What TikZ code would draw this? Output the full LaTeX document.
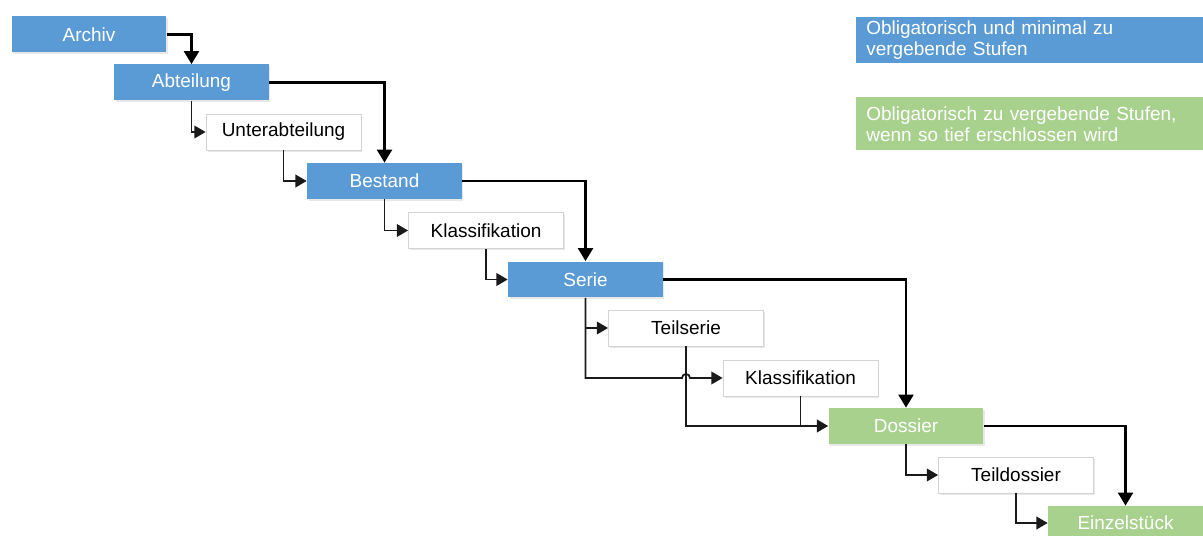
\documentclass[tikz,border=0pt]{standalone}
\usepackage{fontspec}
\setmainfont{Liberation Sans}
\usetikzlibrary{arrows.meta,shadows}
\definecolor{levelblue}{HTML}{5B9BD5}
\definecolor{levelgreen}{HTML}{A9D18E}
\definecolor{boxgray}{HTML}{D4D4D4}
\definecolor{linkgray}{HTML}{1A1A1A}
\begin{document}
\begin{tikzpicture}[x=0.02cm,y=-0.02cm,
  every node/.style={font=\fontsize{10.8}{11.9}\selectfont, inner sep=0pt,
    minimum width=3.1cm, minimum height=0.72cm},
  levelbox/.style={rectangle, drop shadow={opacity=0.18, shadow xshift=0.03cm, shadow yshift=-0.04cm}},
  mandatory/.style={levelbox, fill=levelblue, text=white},
  conditional/.style={levelbox, fill=levelgreen, text=white},
  optional/.style={levelbox, fill=white, draw=boxgray, line width=0.5pt, text=black},
  legendbox/.style={anchor=north west, minimum width=6.94cm, text width=6.54cm,
    inner xsep=0.2cm, align=left, text=white},
  mainlink/.style={line width=1.6pt, -{Triangle[width=8.4pt,length=7.4pt]}},
  sublink/.style={draw=linkgray, line width=1pt, -{Triangle[width=7.2pt,length=6.4pt]}},
  joinline/.style={draw=linkgray, line width=1pt}
]
\useasboundingbox (0,0) rectangle (1203,536);
\clip (0,0) rectangle (1203,536);

% levels of the hierarchy
\node[mandatory]   (archiv)    at (89,34.5)    {Archiv};
\node[mandatory]   (abteilung) at (191.5,82.5) {Abteilung};
\node[optional]    (unterabt)  at (283.5,132)  {Unterabteilung};
\node[mandatory]   (bestand)   at (384.5,181)  {Bestand};
\node[optional]    (klassA)    at (486,230.5)  {Klassifikation};
\node[mandatory]   (serie)     at (585.5,279.5){Serie};
\node[optional]    (teilserie) at (686,328)    {Teilserie};
\node[optional]    (klassB)    at (800.5,378)  {Klassifikation};
\node[conditional] (dossier)   at (906,426)    {Dossier};
\node[optional]    (teildoss)  at (1016,475)   {Teildossier};
\node[conditional, minimum height=0.68cm] (einzel) at (1125.5,523) {Einzelstück};

% legend
\node[legendbox, fill=levelblue, minimum height=0.92cm] (legA) at (856,17)
  {Obligatorisch und minimal zu\\vergebende Stufen};
\node[legendbox, fill=levelgreen, minimum height=1.06cm] (legB) at (856,97)
  {Obligatorisch zu vergebende Stufen,\\wenn so tief erschlossen wird};

% main chain of mandatory levels
\draw[mainlink] (archiv.east)    -| (abteilung.north);
\draw[mainlink] (abteilung.east) -| (bestand.north);
\draw[mainlink] (bestand.east)   -| (serie.north);
\draw[mainlink] (serie.east)     -| (dossier.north);
\draw[mainlink] (dossier.east)   -| (einzel.north);

% optional intermediate levels
\draw[sublink] (abteilung.south) |- (unterabt.west);
\draw[sublink] (unterabt.south)  |- (bestand.west);
\draw[sublink] (bestand.south)   |- (klassA.west);
\draw[sublink] (klassA.south)    |- (serie.west);
\draw[sublink] (serie.south)     |- (teilserie.west);
\coordinate (hop) at (teilserie.south |- klassB.west);
\draw[sublink] (serie.south) |- ([xshift=-0.08cm]hop)
  arc[start angle=180, end angle=0, radius=0.08cm] -- (klassB.west);
\draw[sublink] (teilserie.south) |- (dossier.west);
\coordinate (join) at (klassB.south |- dossier.west);
\draw[joinline] (klassB.south) -- (join);
\draw[sublink] (dossier.south)   |- (teildoss.west);
\draw[sublink] (teildoss.south)  |- (einzel.west);
\end{tikzpicture}
\end{document}
